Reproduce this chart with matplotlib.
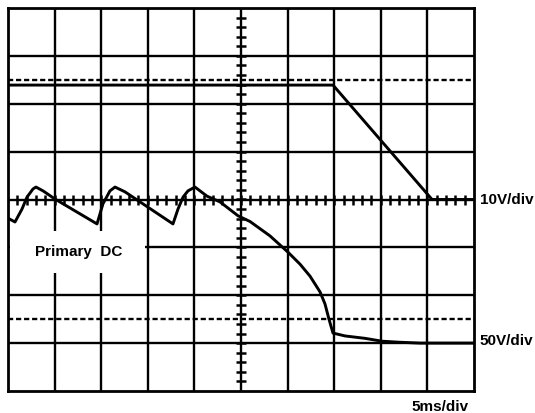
import matplotlib
matplotlib.use('Agg')
import matplotlib.pyplot as plt
from matplotlib.patches import Rectangle
import numpy as np

# scope settings: 10 x 8 divisions, 5 ms/div
ms_per_div = 5
n_xdiv = 10
n_ydiv = 8

# upper trace (10V/div), in divisions from centre
upper_t = [0, 34.87, 45.5, 50]
upper_v = [2.39, 2.39, 0.0, 0.0]

# lower trace (primary DC, 50V/div)
lower_t = [0, 0.75, 1.5, 2.04, 2.68, 3.0, 3.76, 5.04, 9.55, 10.19, 10.94, 11.48,
           12.55, 17.7, 18.24, 18.78, 19.31, 20.06, 21.35, 22.75, 24.68, 25.97,
           28.11, 30.04, 31.33, 32.4, 33.48, 34.01, 34.44, 34.87, 36.16, 38.3,
           40.13, 41.85, 44.21, 50]
lower_v = [-0.39, -0.47, -0.2, 0.05, 0.22, 0.26, 0.18, 0.01, -0.51, -0.09, 0.18, 0.26,
           0.16, -0.51, -0.2, 0.05, 0.18, 0.26, 0.07, -0.05, -0.34, -0.46,
           -0.76, -1.1, -1.35, -1.6, -1.93, -2.18, -2.5, -2.79, -2.85, -2.9,
           -2.96, -2.98, -3.0, -3.0]

# dashed reference levels
dashed_levels = [2.5, -2.5]

plt.rcParams['font.family'] = ['Liberation Sans', 'DejaVu Sans']

fig = plt.figure(figsize=(5.35, 4.14), dpi=100)
ax = fig.add_axes([8 / 535, 1 - 392 / 414, 466 / 535, 383 / 414])

t_max = ms_per_div * n_xdiv
ax.set_xlim(0, t_max)
ax.set_ylim(-n_ydiv / 2, n_ydiv / 2)

# grid
for i in range(1, n_xdiv):
    ax.axvline(i * ms_per_div, color='black', lw=1.7, zorder=1)
for j in range(1, n_ydiv):
    ax.axhline(j - n_ydiv / 2, color='black', lw=1.7, zorder=1)

# minor ticks on the centre lines
xt = np.arange(1, t_max)
ax.plot(xt, np.zeros_like(xt), ls='none', marker='|', ms=7, mew=1.8, color='black', zorder=1)
yt = np.arange(-3.8, 3.81, 0.2)
ax.plot(np.full_like(yt, t_max / 2), yt, ls='none', marker='_', ms=7, mew=1.8, color='black', zorder=1)

for lvl in dashed_levels:
    ax.axhline(lvl, color='black', lw=1.7, dashes=(2.2, 1.2), zorder=2)

# label box hides the grid
ax.add_patch(Rectangle((0.25, -1.53), 14.5, 0.87, facecolor='white', edgecolor='none', zorder=3))
ax.text(7.6, -1.08, 'Primary  DC', ha='center', va='center', fontsize=11,
        fontweight='bold', zorder=4)

ax.plot(upper_t, upper_v, color='black', lw=2.1, zorder=5, solid_joinstyle='round')
ax.plot(lower_t, lower_v, color='black', lw=2.1, zorder=5, solid_joinstyle='round')

for s in ax.spines.values():
    s.set_linewidth(2)
ax.set_xticks([])
ax.set_yticks([])

fig.text(480 / 535, 1 - 200 / 414, '10V/div', ha='left', va='center', fontsize=11, fontweight='bold')
fig.text(479 / 535, 1 - 341 / 414, '50V/div', ha='left', va='center', fontsize=11, fontweight='bold')
fig.text(469 / 535, 1 - 407 / 414, '5ms/div', ha='right', va='center', fontsize=11, fontweight='bold')

fig.savefig('out.png', dpi=100)
